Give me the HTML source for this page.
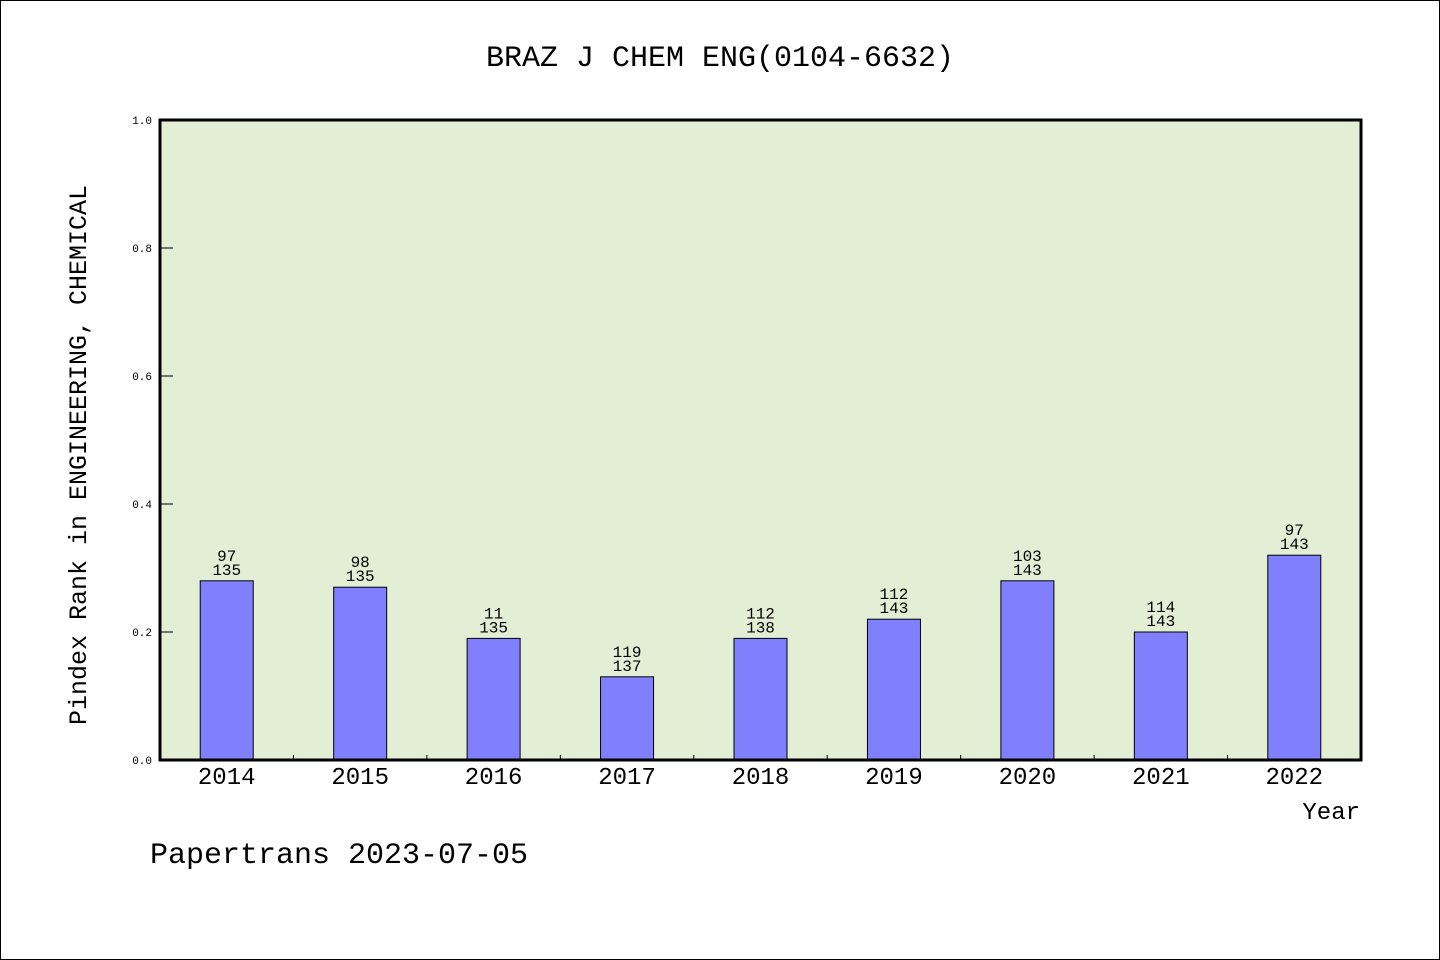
<!DOCTYPE html>
<html><head><meta charset="utf-8"><style>
body{margin:0;background:#fff}
svg{display:block;font-family:"Liberation Mono",monospace}
</style></head><body>
<svg id="chart" width="1440" height="960">
<rect x="0.5" y="0.5" width="1439" height="959" fill="#fff" stroke="#000"/>
<text x="720" y="66" text-anchor="middle" font-size="30">BRAZ J CHEM ENG(0104-6632)</text>
<rect x="160" y="120" width="1201" height="640" fill="#e2efd5"/>
<g id="bars"></g>
<g id="axes"></g>
<rect x="160" y="120" width="1201" height="640" fill="none" stroke="#000" stroke-width="3"/>
<text transform="translate(86,455) rotate(-90)" text-anchor="middle" font-size="25">Pindex Rank in ENGINEERING, CHEMICAL</text>
<text x="1360" y="819" text-anchor="end" font-size="24">Year</text>
<text x="150" y="863" font-size="30">Papertrans 2023-07-05</text>
</svg>
<script>
const years=["2014","2015","2016","2017","2018","2019","2020","2021","2022"];
const values=[0.28,0.27,0.19,0.13,0.19,0.22,0.28,0.20,0.32];
const ranks=["97","98","11","119","112","112","103","114","97"];
const totals=["135","135","135","137","138","143","143","143","143"];
const yTicks=[0,0.2,0.4,0.6,0.8,1.0];
const X0=160,W=1201,Y0=760,H=640,step=W/years.length,bw=53;
const xc=i=>X0+step*(i+0.5);
const y=v=>Y0-v*H;
const NS="http://www.w3.org/2000/svg";
const bars=document.getElementById('bars'),axes=document.getElementById('axes');
function mk(tag,attrs,parent,txt){const e=document.createElementNS(NS,tag);for(const k in attrs)e.setAttribute(k,attrs[k]);if(txt!==undefined)e.textContent=txt;parent.appendChild(e);return e;}
years.forEach((yr,i)=>{
  const r=mk('rect',{x:xc(i)-bw/2,y:y(values[i]),width:bw,height:values[i]*H,fill:'#8080ff',stroke:'#000','stroke-width':1},bars);
  
  
  const t1=mk('text',{x:xc(i),y:y(values[i])-20,'text-anchor':'middle','font-size':16},bars,ranks[i]);
  
  
  const t2=mk('text',{x:xc(i),y:y(values[i])-6,'text-anchor':'middle','font-size':16},bars,totals[i]);
  
  
  const xl=mk('text',{x:xc(i),y:784,'text-anchor':'middle','font-size':24},axes,yr);
  
  
  if(i>0){const tk=mk('line',{x1:X0+step*i,x2:X0+step*i,y1:755,y2:760,stroke:'#000'},axes);
  
  }
});
yTicks.forEach(v=>{
  const tk=mk('line',{x1:161,x2:173,y1:y(v),y2:y(v),stroke:'#000'},axes);
  
  
  const tl=mk('text',{x:152,y:y(v)+4,'text-anchor':'end','font-size':11},axes,v.toFixed(1));
  
  
});
</script>
</body></html>
